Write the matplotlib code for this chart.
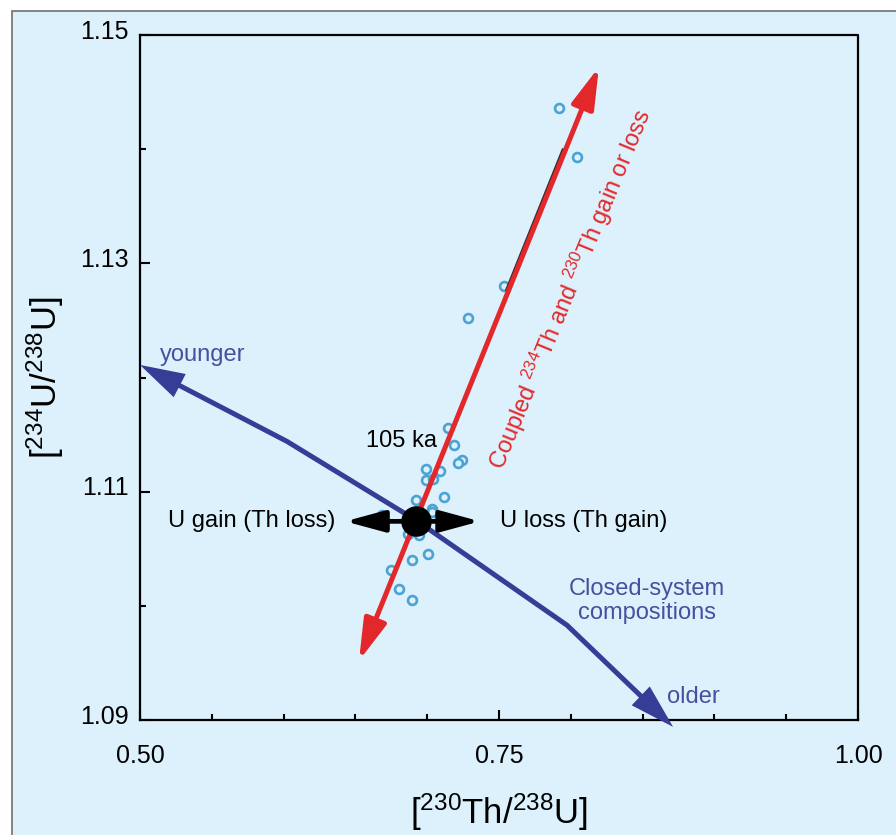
import matplotlib

matplotlib.use("Agg")
import matplotlib.pyplot as plt
from matplotlib.patches import FancyArrowPatch, Rectangle
from matplotlib.path import Path
from matplotlib.transforms import ScaledTranslation

# --- data ---------------------------------------------------------------------
th_u = [0.7918, 0.8041, 0.7537, 0.7286, 0.7147, 0.7189, 0.7240, 0.7217, 0.6992,
        0.7089, 0.6992, 0.7038, 0.6922, 0.7119, 0.7031, 0.7035, 0.6683, 0.6864,
        0.6945, 0.7003, 0.6892, 0.6748, 0.6806, 0.6892]
u_u = [1.1436, 1.1393, 1.1280, 1.1252, 1.1156, 1.1141, 1.1128, 1.1125, 1.1120,
       1.1118, 1.1110, 1.1111, 1.1093, 1.1095, 1.1085, 1.1082, 1.1080, 1.1063,
       1.1062, 1.1045, 1.1040, 1.1031, 1.1015, 1.1005]

# closed-system evolution curve (younger -> older)
closed_x = [0.500, 0.6024, 0.6922, 0.7974, 0.8712]
closed_y = [1.1211, 1.1144, 1.1075, 1.0983, 1.0894]

# coupled 234Th/230Th gain-loss vector
coupled_x = [0.6525, 0.8196]
coupled_y = [1.0952, 1.1472]
fit_x = [0.7556, 0.7946]
fit_y = [1.1277, 1.1399]

# 105 ka reference composition and U gain/loss vector
ref_x, ref_y = 0.6922, 1.1074
ugain_x = [0.6428, 0.7368]

xticks = [0.50, 0.75, 1.00]
xtick_labels = ["0.50", "0.75", "1.00"]
xminor = [0.55, 0.60, 0.65, 0.70, 0.80, 0.85, 0.90, 0.95]
yticks = [1.09, 1.11, 1.13, 1.15]
ytick_labels = ["1.09", "1.11", "1.13", "1.15"]
yminor = [1.10, 1.12, 1.14]

# --- style --------------------------------------------------------------------
BG = "#dcf1fb"
BLUE = "#363d97"
BLUE_TXT = "#45509e"
RED = "#e3282c"
PT = "#4aa3d4"

plt.rcParams.update({
    "font.family": ["Liberation Sans", "DejaVu Sans"],
    "mathtext.fontset": "custom",
    "mathtext.rm": "Liberation Sans",
    "mathtext.it": "Liberation Sans:italic",
    "axes.linewidth": 1.6,
})

fig = plt.figure(figsize=(8.96, 8.35), dpi=100)
fig.patch.set_facecolor("white")
panel = Rectangle((12 / 896, -0.01), 1.0, 1 - 11 / 835 + 0.01,
                  transform=fig.transFigure, facecolor=BG,
                  edgecolor="#707070", lw=1.2, zorder=-10)
fig.patches.append(panel)

ax = fig.add_axes([140 / 896, 1 - 720 / 835, 718 / 896, 685 / 835])
ax.set_facecolor("none")
ax.set_xlim(0.5, 1.0)
ax.set_ylim(1.09, 1.15)
for s in ("top", "right"):
    ax.spines[s].set_visible(False)
ax.plot([1.0, 1.0, 0.5], [1.09, 1.15, 1.15], color="black", lw=1.6,
        clip_on=False, zorder=1)

ax.set_xticks(xticks, xtick_labels)
ax.set_xticks(xminor, minor=True)
ax.set_yticks(yticks, ytick_labels)
ax.set_yticks(yminor, minor=True)
ax.tick_params(which="both", direction="in", width=1.5, labelsize=18)
ax.tick_params(which="major", length=7)
ax.tick_params(which="minor", length=4.5)
ax.tick_params(axis="x", pad=17)
ax.tick_params(axis="y", pad=8)
for t in ax.yaxis.get_major_ticks():
    t.label1.set_transform(t.label1.get_transform()
                           + ScaledTranslation(0, 0.06, fig.dpi_scale_trans))

ax.set_xlabel(r"[$^{230}$Th/$^{238}$U]", fontsize=25, labelpad=17)
ax.set_ylabel(r"[$^{234}$U/$^{238}$U]", fontsize=25, labelpad=10)

# --- data points --------------------------------------------------------------
ax.plot(th_u, u_u, "o", ms=6.4, mfc=BG, mec=PT, mew=1.9, zorder=2,
        clip_on=False)

# --- closed-system curve ------------------------------------------------------
closed = FancyArrowPatch(path=Path(list(zip(closed_x, closed_y))),
                         arrowstyle="<|-|>,head_length=24,head_width=7",
                         mutation_scale=1, color=BLUE, lw=3.6,
                         joinstyle="miter", capstyle="butt", zorder=3)
closed.set_clip_on(False)
ax.add_patch(closed)

# --- coupled Th vector --------------------------------------------------------
ax.plot(fit_x, fit_y, color="#3a2a2a", lw=2.5, zorder=3.5)
coupled = FancyArrowPatch((coupled_x[0], coupled_y[0]), (coupled_x[1], coupled_y[1]),
                          arrowstyle="<|-|>,head_length=25,head_width=7",
                          mutation_scale=1, color=RED, lw=3.6,
                          shrinkA=0, shrinkB=0, zorder=4)
ax.add_patch(coupled)

# --- U gain / loss vector and 105 ka point -----------------------------------
ugain = FancyArrowPatch((ugain_x[0], ref_y), (ugain_x[1], ref_y),
                        arrowstyle="<|-|>,head_length=24,head_width=6.5",
                        mutation_scale=1, color="black", lw=3.4,
                        shrinkA=0, shrinkB=0, zorder=5)
ax.add_patch(ugain)
ax.plot([ref_x], [ref_y], "o", ms=21, color="black", zorder=6)

# --- annotations --------------------------------------------------------------
ax.text(0.6358, 1.1074, "U gain (Th loss)", fontsize=17, ha="right", va="center")
ax.text(0.7507, 1.1074, "U loss (Th gain)", fontsize=17, ha="left", va="center")
ax.text(0.6818, 1.1144, "105 ka", fontsize=17, ha="center", va="center")
ax.text(0.5139, 1.1220, "younger", fontsize=17, color=BLUE_TXT, ha="left", va="center")
ax.text(0.8531, 1.1004, "Closed-system\ncompositions", fontsize=17, color=BLUE_TXT,
        ha="center", va="center", linespacing=1.12)
ax.text(0.8670, 1.0920, "older", fontsize=17, color=BLUE_TXT, ha="left", va="center")
ax.text(0.7994, 1.1277, r"Coupled $^{234}$Th and $^{230}$Th gain or loss",
        fontsize=17, color=RED, rotation=67.5, rotation_mode="anchor",
        ha="center", va="center")

fig.savefig("out.png", dpi=100, facecolor=fig.get_facecolor())
